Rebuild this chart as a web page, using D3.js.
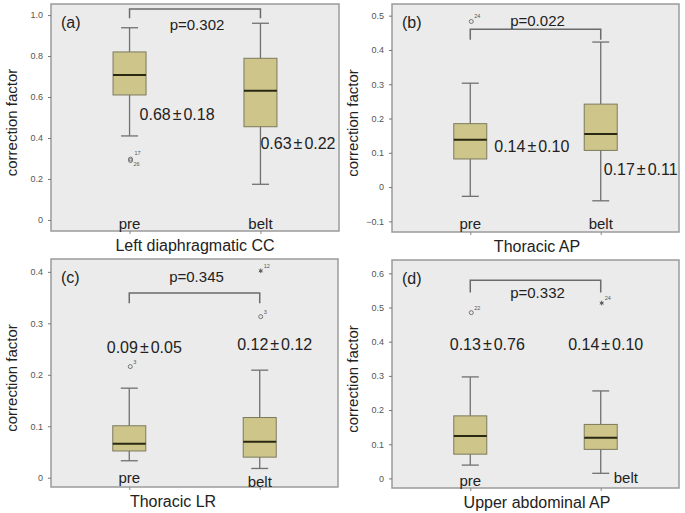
<!DOCTYPE html>
<html>
<head>
<meta charset="utf-8">
<script src="https://cdn.jsdelivr.net/npm/d3@7"></script>
<style>
  body { margin: 0; background: #fff; }
  text { font-family: "Liberation Sans", Arial, sans-serif; fill: #222; }
</style>
</head>
<body>
<script>
// chart values
const panelTags  = ['(a)', '(b)', '(c)', '(d)'];
const titles     = ['Left diaphragmatic CC', 'Thoracic AP', 'Thoracic LR', 'Upper abdominal AP'];
const groups     = ['pre', 'belt'];
const yTicks     = [
  [0, 0.2, 0.4, 0.6, 0.8, 1.0],
  [-0.1, 0, 0.1, 0.2, 0.3, 0.4, 0.5],
  [0, 0.1, 0.2, 0.3, 0.4],
  [0, 0.1, 0.2, 0.3, 0.4, 0.5, 0.6]
];
// [pre, belt] per panel
const whiskerLow  = [[0.41, 0.174], [-0.027, -0.04], [0.033, 0.018], [0.039, 0.015]];
const q1          = [[0.61, 0.455], [0.082, 0.107], [0.052, 0.04], [0.071, 0.085]];
const median      = [[0.707, 0.63], [0.138, 0.155], [0.066, 0.07], [0.124, 0.119]];
const q3          = [[0.82, 0.789], [0.185, 0.242], [0.101, 0.117], [0.183, 0.158]];
const whiskerHigh = [[0.938, 0.96], [0.303, 0.423], [0.174, 0.209], [0.297, 0.256]];
const means = [['0.68', '0.63'], ['0.14', '0.17'], ['0.09', '0.12'], ['0.13', '0.14']];
const sds   = [['0.18', '0.22'], ['0.10', '0.11'], ['0.05', '0.12'], ['0.76', '0.10']];
const pValues = ['p=0.302', 'p=0.022', 'p=0.345', 'p=0.332'];
// outliers: panel, group, value, case label, kind
const outliers = [
  { p: 0, g: 'pre',  v: 0.297, label: '17', kind: 'o', lx: 4, ly: -4 },
  { p: 0, g: 'pre',  v: 0.29,  label: '26', kind: 'o', lx: 3, ly: 5 },
  { p: 1, g: 'pre',  v: 0.483, label: '24', kind: 'o', lx: 3, ly: -3 },
  { p: 2, g: 'pre',  v: 0.216, label: '3',  kind: 'o', lx: 3, ly: -3 },
  { p: 2, g: 'belt', v: 0.313, label: '3',  kind: 'o', lx: 3, ly: -3 },
  { p: 2, g: 'belt', v: 0.402, label: '12', kind: '*', lx: 3, ly: -3 },
  { p: 3, g: 'pre',  v: 0.485, label: '22', kind: 'o', lx: 3, ly: -3 },
  { p: 3, g: 'belt', v: 0.513, label: '24', kind: '*', lx: 3, ly: -3 }
];
// bracket: top value, end value
const bracketTop = [1.03, 0.46, 0.359, 0.58];
const bracketEnd = [0.985, 0.43, 0.339, 0.544];

// layout per panel
const layout = [
  { x: 51,  y: 4,   w: 288, h: 227, dom: [-0.054, 1.054], pY: 21, tx: 144, sd: [{ a: 'start', dx: 10, y: 110 }, { a: 'start', dx: 0, y: 139 }], lbl: [220, 220], belt: 'c' },
  { x: 392, y: 4,   w: 287, h: 228, dom: [-0.131, 0.534], pY: 17, tx: 145, sd: [{ a: 'start', dx: 24, y: 142 }, { a: 'start', dx: 3, y: 165 }], lbl: [220, 220], belt: 'c' },
  { x: 51,  y: 259, w: 287, h: 228, dom: [-0.018, 0.425], pY: 18, tx: 122, sd: [{ a: 'middle', dx: 15, y: 88 }, { a: 'middle', dx: 15, y: 85 }], lbl: [219, 223], belt: 'c' },
  { x: 392, y: 260, w: 287, h: 228, dom: [-0.028, 0.639], pY: 33, tx: 145, sd: [{ a: 'middle', dx: 17, y: 84 }, { a: 'middle', dx: 5, y: 84 }], lbl: [221, 218], belt: 'r' }
];

const W = 685, H = 513;
const boxW = 33;

const svg = d3.select('body').append('svg')
  .attr('width', W).attr('height', H);

layout.forEach((L, i) => {
  const g = svg.append('g').attr('transform', `translate(${L.x},${L.y})`);

  const x = d3.scalePoint().domain(groups).range([0, L.w]).padding(0.6);
  const y = d3.scaleLinear().domain(L.dom).range([L.h, 0]);

  // panel background
  g.append('rect')
    .attr('width', L.w).attr('height', L.h)
    .attr('fill', '#ebebeb')
    .attr('stroke', '#9b9b9b').attr('stroke-width', 1.5);

  // y axis
  const yAxis = d3.axisLeft(y).tickValues(yTicks[i]).tickSize(3).tickPadding(5)
    .tickFormat((d) => d === 0 ? '0' : d3.format('.1f')(d));
  const ya = g.append('g').call(yAxis);
  ya.select('.domain').remove();
  ya.selectAll('line').attr('stroke', '#777');
  ya.selectAll('text').style('font-size', '9px').style('fill', '#555')
    .style('font-family', '"Liberation Sans", Arial, sans-serif');

  // x ticks under frame
  const xAxis = d3.axisBottom(x).tickSize(3).tickFormat('');
  const xa = g.append('g').attr('transform', `translate(0,${L.h})`).call(xAxis);
  xa.select('.domain').remove();
  xa.selectAll('line').attr('stroke', '#888');

  // boxes
  groups.forEach((grp, j) => {
    const cx = x(grp);
    // whisker
    g.append('line')
      .attr('x1', cx).attr('x2', cx)
      .attr('y1', y(whiskerLow[i][j])).attr('y2', y(whiskerHigh[i][j]))
      .attr('stroke', '#707070').attr('stroke-width', 1.3);
    [whiskerLow[i][j], whiskerHigh[i][j]].forEach((v) => {
      g.append('line')
        .attr('x1', cx - 8.5).attr('x2', cx + 8.5)
        .attr('y1', y(v)).attr('y2', y(v))
        .attr('stroke', '#707070').attr('stroke-width', 1.3);
    });
    g.append('rect')
      .attr('x', cx - boxW / 2).attr('width', boxW)
      .attr('y', y(q3[i][j])).attr('height', y(q1[i][j]) - y(q3[i][j]))
      .attr('fill', '#cec58b').attr('stroke', '#7d7a5c').attr('stroke-width', 1);
    g.append('line')
      .attr('x1', cx - boxW / 2).attr('x2', cx + boxW / 2)
      .attr('y1', y(median[i][j])).attr('y2', y(median[i][j]))
      .attr('stroke', '#2a2812').attr('stroke-width', 2);

    // group label
    const right = L.belt === 'r' && grp === 'belt';
    g.append('text')
      .attr('x', right ? cx + 13 : cx)
      .attr('y', L.lbl[j])
      .attr('dy', '0.35em')
      .attr('text-anchor', right ? 'start' : 'middle')
      .style('font-size', '15px')
      .text(grp);

    // mean ± sd
    const s = L.sd[j];
    const t = g.append('text')
      .attr('x', cx + s.dx).attr('y', s.y).attr('dy', '0.35em')
      .attr('text-anchor', s.a)
      .style('font-size', '16px');
    t.append('tspan').text(means[i][j]);
    t.append('tspan').attr('dx', 2).text('\u00b1');
    t.append('tspan').attr('dx', 2).text(sds[i][j]);
  });

  // outliers
  outliers.filter((o) => o.p === i).forEach((o) => {
    const ox = x(o.g) + 1, oy = y(o.v);
    if (o.kind === 'o') {
      g.append('circle').attr('cx', ox).attr('cy', oy).attr('r', 2)
        .attr('fill', 'none').attr('stroke', '#666').attr('stroke-width', 0.9);
    } else {
      g.append('path')
        .attr('d', d3.symbol(d3.symbolAsterisk, 14)())
        .attr('transform', `translate(${ox},${oy})`)
        .attr('fill', 'none').attr('stroke', '#555').attr('stroke-width', 1);
    }
    g.append('text')
      .attr('x', ox + o.lx).attr('y', oy + o.ly)
      .style('font-size', '5.5px').style('fill', '#555')
      .text(o.label);
  });

  // significance bracket
  const bx0 = x(groups[0]), bx1 = x(groups[1]);
  g.append('path')
    .attr('d', d3.line()([
      [bx0, y(bracketEnd[i])], [bx0, y(bracketTop[i])],
      [bx1, y(bracketTop[i])], [bx1, y(bracketEnd[i])]
    ]))
    .attr('fill', 'none').attr('stroke', '#6b6b6b').attr('stroke-width', 1.5);

  g.append('text')
    .attr('x', (bx0 + bx1) / 2 + 2).attr('y', L.pY).attr('dy', '0.35em')
    .attr('text-anchor', 'middle')
    .style('font-size', '15px')
    .text(pValues[i]);

  // panel tag
  g.append('text')
    .attr('x', 10).attr('y', 18).attr('dy', '0.35em')
    .style('font-size', '16px')
    .text(panelTags[i]);

  // x title
  g.append('text')
    .attr('x', L.tx).attr('y', L.h + 14).attr('dy', '0.35em')
    .attr('text-anchor', 'middle')
    .style('font-size', '16px')
    .text(titles[i]);

  // y title
  g.append('text')
    .attr('transform', `translate(${-34},${L.h / 2 + 5}) rotate(-90)`)
    .attr('text-anchor', 'middle')
    .style('font-size', '15px')
    .text('correction factor');
});
</script>
</body>
</html>
